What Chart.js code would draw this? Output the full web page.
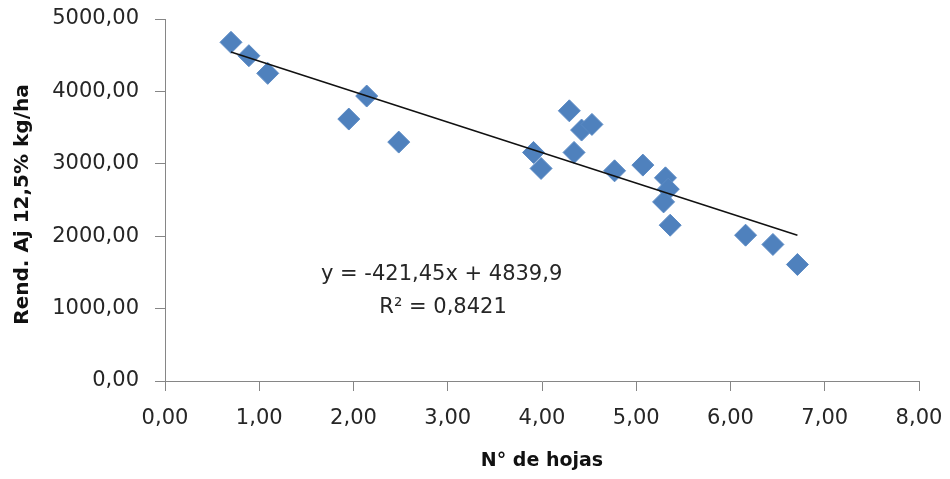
<!DOCTYPE html>
<html>
<head>
<meta charset="utf-8">
<script src="https://cdn.jsdelivr.net/npm/chart.js@4"></script>
<style>
html,body{margin:0;padding:0;background:#fff;}
#wrap{width:950px;height:479px;}
</style>
</head>
<body>
<div id="wrap"><canvas id="c" width="950" height="479"></canvas></div>
<script>
// ---- data ----
const hojas = [0.70, 0.89, 1.09, 1.95, 2.14, 2.48, 3.91, 3.99, 4.29, 4.34, 4.42, 4.53, 4.77, 5.07, 5.31, 5.34, 5.29, 5.36, 6.16, 6.45, 6.71];
const rendimiento = [4678, 4493, 4249, 3618, 3936, 3300, 3157, 2936, 3732, 3157, 3466, 3544, 2903, 2982, 2806, 2650, 2474, 2152, 2014, 1886, 1609];
const trendSlope = -421.45;
const trendIntercept = 4839.9;
const equationText = 'y = -421,45x + 4839,9';
const r2Text = 'R² = 0,8421';
const xTickLabels = ['0,00','1,00','2,00','3,00','4,00','5,00','6,00','7,00','8,00'];
const yTickLabels = ['0,00','1000,00','2000,00','3000,00','4000,00','5000,00'];
const xTitle = 'N° de hojas';
const yTitle = 'Rend. Aj 12,5% kg/ha';

// ---- build ----
const points = hojas.map((x, i) => ({x: x, y: rendimiento[i]}));
const xMin = Math.min(...hojas), xMax = Math.max(...hojas);
const trend = [
  {x: xMin, y: trendIntercept + trendSlope * xMin},
  {x: xMax, y: trendIntercept + trendSlope * xMax}
];

const FONT = 'DejaVu Sans';
const axisColor = '#868686';
const textColor = '#262626';

const textPlugin = {
  id: 'extraText',
  afterDatasetsDraw(chart) {
    const ctx = chart.ctx;
    const xs = chart.scales.x, ys = chart.scales.y;
    const ca = chart.chartArea;
    ctx.save();
    // trendline equation
    ctx.font = '21px "' + FONT + '"';
    ctx.fillStyle = textColor;
    ctx.textAlign = 'center';
    ctx.textBaseline = 'middle';
    ctx.fillText(equationText, xs.getPixelForValue(2.935), ys.getPixelForValue(1471));
    ctx.fillText(r2Text, xs.getPixelForValue(2.95), ys.getPixelForValue(1009));
    // y-axis title
    ctx.font = 'bold 20px "' + FONT + '"';
    ctx.fillStyle = '#111';
    ctx.translate(23, (ca.top + ca.bottom) / 2 + 4.5);
    ctx.rotate(-Math.PI / 2);
    ctx.fillText(yTitle, 0, 0);
    ctx.restore();
  }
};

new Chart(document.getElementById('c'), {
  type: 'scatter',
  data: {
    datasets: [
      {
        label: 'Lineal',
        type: 'line',
        data: trend,
        showLine: true,
        borderColor: '#111111',
        borderWidth: 1.5,
        pointRadius: 0,
        fill: false
      },
      {
        label: 'Rend',
        data: points,
        pointStyle: 'rectRot',
        pointRadius: 11,
        backgroundColor: '#4F81BD',
        borderColor: '#5B8AC4',
        borderWidth: 1
      }
    ]
  },
  options: {
    responsive: false,
    animation: false,
    devicePixelRatio: 1,
    layout: {padding: {top: 19, right: 31, left: 0, bottom: 0}},
    plugins: {legend: {display: false}, tooltip: {enabled: false}},
    scales: {
      x: {
        type: 'linear',
        min: 0, max: 8,
        afterFit(s) { s.height = 98; s.paddingLeft = 0; s.paddingRight = 0; },
        ticks: {
          stepSize: 1,
          color: textColor,
          font: {family: FONT, size: 21},
          padding: 15,
          maxRotation: 0,
          callback: (v) => xTickLabels[Math.round(v)]
        },
        grid: {display: true, drawOnChartArea: false, drawTicks: true, tickLength: 10, color: axisColor, lineWidth: 1},
        border: {display: true, color: axisColor, width: 1},
        title: {display: true, text: xTitle, color: '#111', font: {family: FONT, size: 19, weight: 'bold'}, padding: {top: 8, bottom: 7}}
      },
      y: {
        type: 'linear',
        min: 0, max: 5000,
        afterFit(s) { s.width = 165; s.paddingTop = 0; s.paddingBottom = 0; },
        ticks: {
          stepSize: 1000,
          color: textColor,
          font: {family: FONT, size: 21},
          padding: 16,
          callback: (v) => yTickLabels[Math.round(v / 1000)]
        },
        grid: {display: true, drawOnChartArea: false, drawTicks: true, tickLength: 10, color: axisColor, lineWidth: 1},
        border: {display: true, color: axisColor, width: 1},
        title: {display: false}
      }
    }
  },
  plugins: [textPlugin]
});
</script>
</body>
</html>
